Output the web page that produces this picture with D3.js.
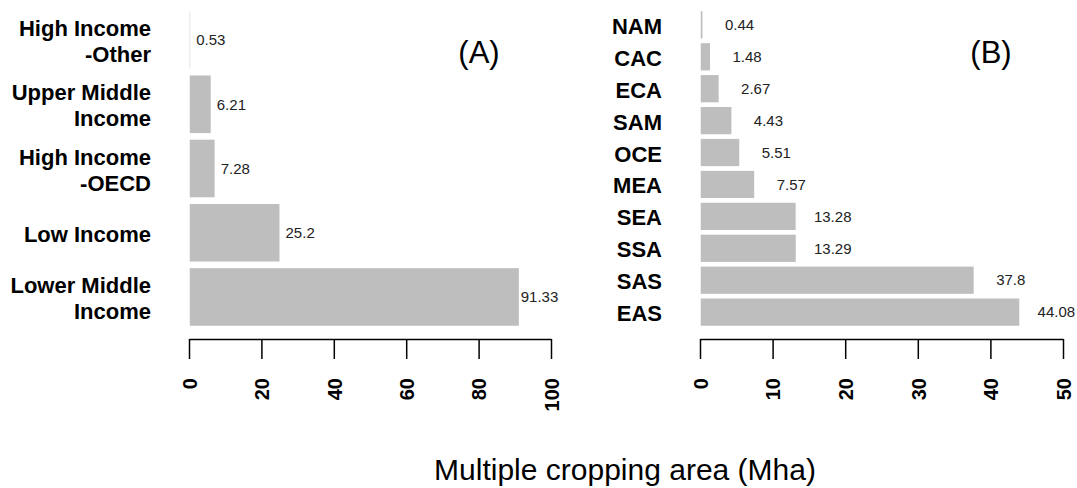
<!DOCTYPE html>
<html>
<head>
<meta charset="utf-8">
<script src="https://cdn.jsdelivr.net/npm/d3@7"></script>
<style>
  body { margin: 0; background: #fff; }
  text { font-family: "Liberation Sans", Arial, sans-serif; }
</style>
</head>
<body>
<svg id="chart" width="1077" height="488"></svg>
<script>
// panel A: income groups (top to bottom)
var incomeGroups = ["High Income\n-Other", "Upper Middle\nIncome", "High Income\n-OECD", "Low Income", "Lower Middle\nIncome"];
var incomeValues = [0.53, 6.21, 7.28, 25.2, 91.33];
var incomeTicks = [0, 20, 40, 60, 80, 100];

// panel B: regions (top to bottom)
var regions = ["NAM", "CAC", "ECA", "SAM", "OCE", "MEA", "SEA", "SSA", "SAS", "EAS"];
var regionValues = [0.44, 1.48, 2.67, 4.43, 5.51, 7.57, 13.28, 13.29, 37.8, 44.08];
var regionTicks = [0, 10, 20, 30, 40, 50];

var svg = d3.select("#chart");

function drawPanel(opts) {
  var x = d3.scaleLinear()
    .domain([0, opts.ticks[opts.ticks.length - 1]])
    .range(opts.xRange);

  var y = d3.scaleBand()
    .domain(opts.cats)
    .range([10.5, 326.5])
    .paddingInner(opts.pad)
    .paddingOuter(0);

  var rows = opts.cats.map(function(c, i) { return {cat: c, value: opts.values[i]}; });

  var g = svg.append("g");

  g.selectAll("rect.bar")
    .data(rows)
  .enter().append("rect")
    .attr("class", "bar")
    .attr("x", x(0))
    .attr("y", function(d) { return y(d.cat); })
    .attr("width", function(d) { return x(d.value) - x(0); })
    .attr("height", y.bandwidth())
    .style("fill", "#bebebe")
    .style("stroke", "#fff")
    .style("stroke-width", 1.5);

  // value labels
  g.selectAll("text.val")
    .data(rows)
  .enter().append("text")
    .attr("class", "val")
    .attr("x", function(d) { return x(d.value + opts.labelShift); })
    .attr("y", function(d) { return y(d.cat) + y.bandwidth() / 2; })
    .attr("dy", "0.35em")
    .attr("text-anchor", "middle")
    .style("font-size", "15px")
    .style("fill", "#222")
    .text(function(d) { return d.value; });

  // category labels (may be two lines)
  var lab = g.selectAll("text.cat")
    .data(rows)
  .enter().append("text")
    .attr("class", "cat")
    .attr("text-anchor", "end")
    .style("font-size", "22px")
    .style("font-weight", "bold")
    .style("fill", "#000")
    .attr("transform", function(d) {
      return "translate(" + opts.labelX + "," + (y(d.cat) + y.bandwidth() / 2) + ")";
    });

  lab.each(function(d) {
    var lines = d.cat.split("\n");
    var t = d3.select(this);
    lines.forEach(function(line, i) {
      var base = lines.length == 1 ? 9 : (i == 0 ? -4 : 22);
      t.append("tspan").attr("x", 0).attr("y", base).text(line);
    });
  });

  // x axis
  var axis = g.append("g")
    .attr("transform", "translate(0,339)")
    .call(d3.axisBottom(x).tickValues(opts.ticks).tickSize(20).tickSizeOuter(0).tickFormat(d3.format("d")));

  axis.select(".domain").style("stroke", "#000").style("stroke-width", 1.5);
  axis.selectAll(".tick line").style("stroke", "#000").style("stroke-width", 1.5);
  axis.selectAll(".tick text")
    .attr("transform", "translate(0,39) rotate(-90)")
    .attr("x", 0)
    .attr("y", 0)
    .attr("dy", "0.36em")
    .attr("text-anchor", "end")
    .style("font-family", "'Liberation Sans', Arial, sans-serif")
    .style("font-size", "20px")
    .style("font-weight", "bold")
    .style("fill", "#000");

  // panel tag
  g.append("text")
    .attr("x", opts.tagX)
    .attr("y", 63)
    .attr("text-anchor", "middle")
    .style("font-size", "31px")
    .text(opts.tag);
}

drawPanel({
  cats: incomeGroups, values: incomeValues, ticks: incomeTicks,
  xRange: [189, 551], pad: 0.08, labelShift: 5.5, labelX: 151,
  tag: "(A)", tagX: 479
});

drawPanel({
  cats: regions, values: regionValues, ticks: regionTicks,
  xRange: [700, 1063], pad: 0.1, labelShift: 5, labelX: 662,
  tag: "(B)", tagX: 991
});

svg.append("text")
  .attr("x", 625)
  .attr("y", 480)
  .attr("text-anchor", "middle")
  .style("font-size", "30px")
  .text("Multiple cropping area (Mha)");
</script>
</body>
</html>
